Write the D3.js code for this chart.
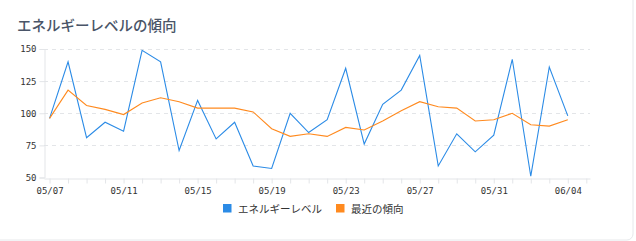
<!DOCTYPE html>
<html>
<head>
<meta charset="utf-8">
<script src="https://cdn.jsdelivr.net/npm/d3@7"></script>
<style>
  body { margin: 0; background: #fff; }
  svg { display: block; }
  .tick text { font-family: "DejaVu Sans Mono", monospace; font-size: 9px; fill: #333; }
</style>
</head>
<body>
<div id="chart-area"></div>
<script>
// data
var dates = ["05/07","05/08","05/09","05/10","05/11","05/12","05/13","05/14","05/15","05/16",
             "05/17","05/18","05/19","05/20","05/21","05/22","05/23","05/24","05/25","05/26",
             "05/27","05/28","05/29","05/30","05/31","06/01","06/02","06/03","06/04"];
var energy = [96,140,81,93,86,149,140,71,110,80,
              93,59,57,100,85,95,135,76,107,118,
              145,59,84,70,83,142,51,136,98];
var trend = [96,118,106,103,99,108,112,109,104,104,
             104,101,88,82,84,82,89,87,94,102,
             109,105,104,94,95,100,91,90,95];
var yTicks = [50,75,100,125,150];
var seriesNames = ["エネルギーレベル", "最近の傾向"];
var colors = ["#2b8be6", "#ff8a1f"];

var width = 636, height = 241;
var margin = {left: 44, right: 46, top: 49, bottom: 63};

var svg = d3.select("#chart-area")
    .append("svg")
    .attr("width", width)
    .attr("height", height);

// card border
svg.append("rect")
    .attr("x", -10).attr("y", -10)
    .attr("width", 643).attr("height", 250)
    .attr("rx", 6)
    .attr("fill", "none")
    .attr("stroke", "#e6e8eb");

// title
svg.append("text")
    .attr("x", 17)
    .attr("y", 31)
    .attr("font-family", "'Noto Sans CJK JP', sans-serif")
    .attr("font-size", "14.5px")
    .attr("font-weight", 500)
    .attr("fill", "#4a5568")
    .text("エネルギーレベルの傾向");

// scales (day index, with a little padding each side)
var x = d3.scaleLinear()
    .domain([-0.3, dates.length + 0.2])
    .range([margin.left, width - margin.right]);

var y = d3.scaleLinear()
    .domain([50, 150])
    .range([height - margin.bottom - 0.5, margin.top]);

var g = svg.append("g");

// grid
g.selectAll("line.grid")
    .data(yTicks.slice(1))
    .enter().append("line")
    .attr("class", "grid")
    .attr("x1", margin.left).attr("x2", width - margin.right)
    .attr("y1", d => Math.round(y(d)) + 0.5).attr("y2", d => Math.round(y(d)) + 0.5)
    .attr("stroke", "#e3e5e8")
    .attr("stroke-dasharray", "4,4");

// y axis
var yAxis = g.append("g")
    .attr("transform", "translate(" + (margin.left + 0.5) + ",0)")
    .call(d3.axisLeft(y).tickValues(yTicks).tickSize(5).tickPadding(3));
yAxis.select(".domain").attr("stroke", "#e3e5e8");
yAxis.selectAll(".tick line").attr("stroke", "#e3e5e8");

// x axis
var dayTicks = d3.range(0, dates.length + 1);
var xAxis = g.append("g")
    .attr("transform", "translate(0," + (Math.round(y(50)) + 0.5) + ")")
    .call(d3.axisBottom(x)
        .tickValues(dayTicks)
        .tickSize(5)
        .tickPadding(4)
        .tickSizeOuter(0)
        .tickFormat(i => (i % 4 === 0 && i < dates.length) ? dates[i] : ""));
xAxis.select(".domain").attr("stroke", "#e3e5e8");
xAxis.selectAll(".tick line").attr("stroke", "#e3e5e8");

// lines
var line = d3.line()
    .x((d, i) => x(i))
    .y(d => y(d));

[energy, trend].forEach(function(series, k) {
    g.append("path")
        .datum(series)
        .attr("fill", "none")
        .attr("stroke", colors[k])
        .attr("stroke-width", 1.1)
        .attr("d", line);
});

// legend
var legendX = [223, 336];
var legend = svg.append("g").attr("transform", "translate(0,204)");
seriesNames.forEach(function(name, i) {
    var row = legend.append("g").attr("transform", "translate(" + legendX[i] + ",0)");
    row.append("rect")
        .attr("width", 8.5).attr("height", 8.5)
        .attr("fill", colors[i]);
    row.append("text")
        .attr("x", 15)
        .attr("y", 8.5)
        .attr("font-family", "'Noto Sans CJK JP', sans-serif")
        .attr("font-size", "10.5px")
        .attr("fill", "#333")
        .text(name);
});
</script>
</body>
</html>
